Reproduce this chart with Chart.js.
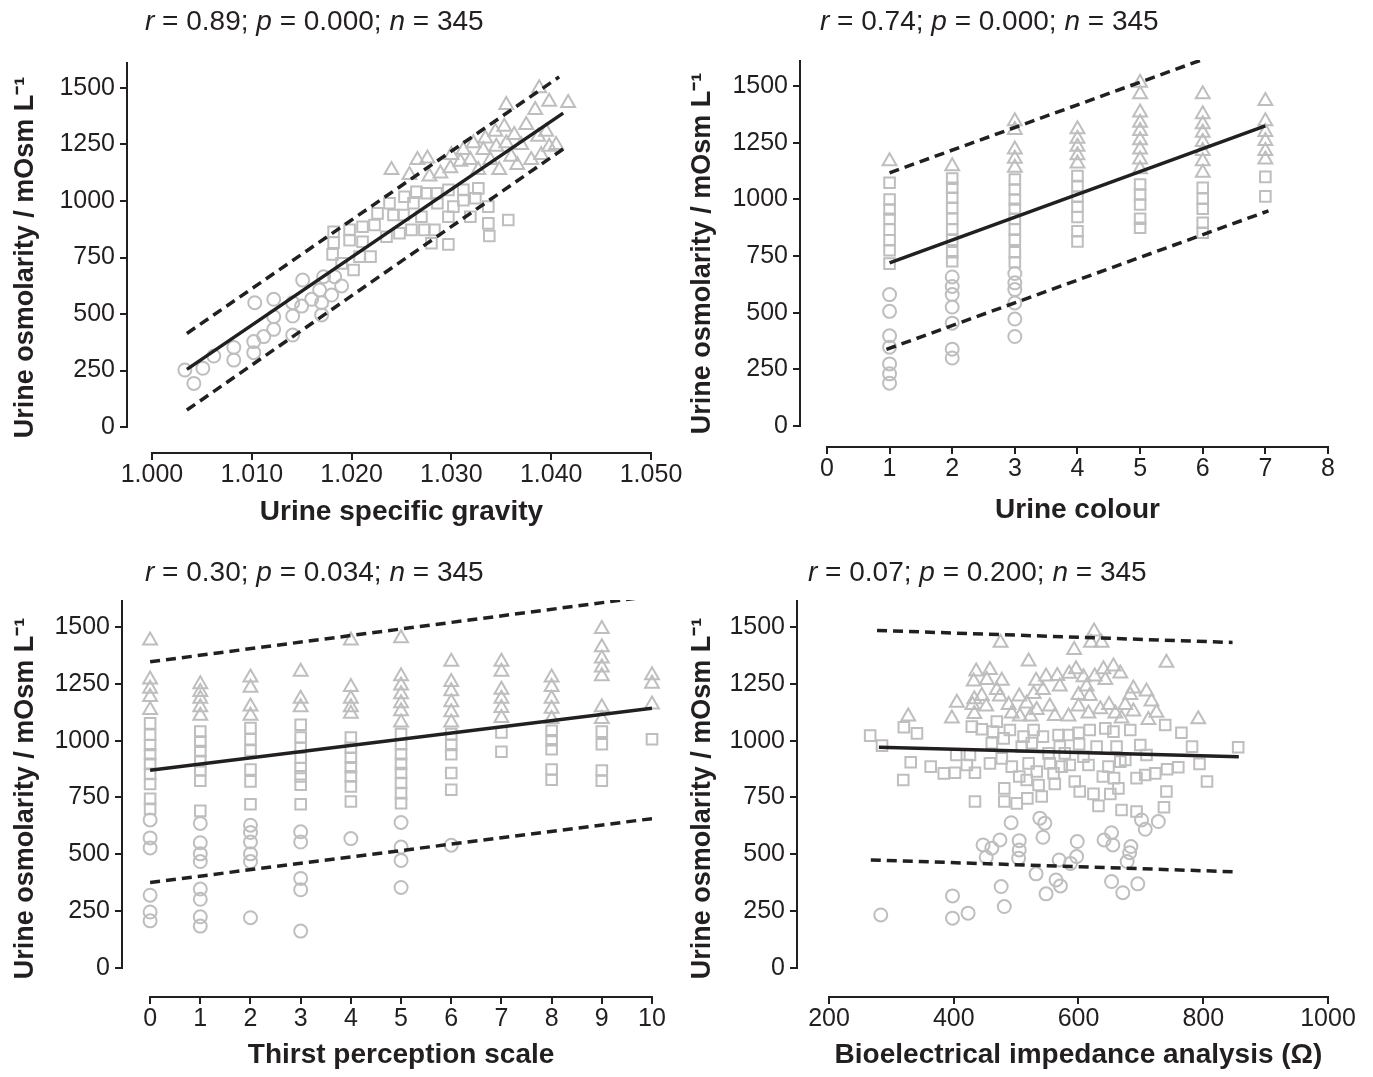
<!DOCTYPE html>
<html>
<head>
<meta charset="utf-8">
<script src="https://cdn.jsdelivr.net/npm/chart.js@4.4.1/dist/chart.umd.min.js"></script>
<style>
  body { margin: 0; background: #fff; }
  canvas { position: absolute; }
</style>
</head>
<body>
<canvas id="sg"></canvas>
<canvas id="colour"></canvas>
<canvas id="thirst"></canvas>
<canvas id="bia"></canvas>
<script>
const INK = '#231f20';
const MARK = '#bebebe';
const FONT = '"Liberation Sans", Arial, Helvetica, sans-serif';

// stats shown above each panel
const statR = ['0.89', '0.74', '0.30', '0.07'];
const statP = ['0.000', '0.000', '0.034', '0.200'];
const statN = 345;
const yTicks = [0, 250, 500, 750, 1000, 1250, 1500];

// urine specific gravity
const sgTicks = [1.000, 1.010, 1.020, 1.030, 1.040, 1.050];
const sgCircles = [[1.0033,252],[1.0042,193],[1.0051,260],[1.0062,314],[1.0082,352],[1.0082,296],[1.0102,378],
  [1.0102,329],[1.0103,550],[1.0112,400],[1.0122,432],[1.0122,565],[1.0122,488],[1.0141,550],[1.0141,491],
  [1.0141,407],[1.0151,650],[1.0150,535],[1.0160,565],[1.0168,606],[1.0172,665],[1.0170,550],[1.0170,496],
  [1.0180,584],[1.0183,665],[1.0190,624]];
const sgSquares = [[1.0182,864],[1.0182,816],[1.0181,764],[1.0190,724],[1.0202,695],[1.0198,872],[1.0198,827],
  [1.0208,754],[1.0219,754],[1.0211,886],[1.0211,820],[1.0223,894],[1.0226,945],[1.0235,842],[1.0238,990],
  [1.0242,938],[1.0248,857],[1.0253,1019],[1.0252,938],[1.0260,872],[1.0262,990],[1.0265,1041],[1.0270,930],
  [1.0273,872],[1.0275,1034],[1.0280,813],[1.0283,872],[1.0285,1034],[1.0286,990],[1.0297,808],[1.0297,930],
  [1.0297,1049],[1.0302,975],[1.0312,1049],[1.0312,1004],[1.0319,930],[1.0324,1012],[1.0327,1056],[1.0337,975],
  [1.0337,901],[1.0338,845],[1.0357,916]];
const sgTriangles = [[1.0240,1137],[1.0258,1115],[1.0266,1181],[1.0276,1188],[1.0278,1108],[1.0289,1122],
  [1.0299,1145],[1.0300,1204],[1.0309,1174],[1.0312,1226],[1.0319,1181],[1.0322,1255],[1.0327,1137],[1.0332,1226],
  [1.0334,1277],[1.0339,1181],[1.0344,1306],[1.0345,1240],[1.0348,1137],[1.0353,1329],[1.0355,1425],[1.0355,1255],
  [1.0360,1196],[1.0363,1292],[1.0366,1159],[1.0370,1248],[1.0375,1336],[1.0380,1181],[1.0384,1403],[1.0387,1284],
  [1.0388,1499],[1.0390,1204],[1.0395,1306],[1.0398,1439],[1.0398,1240],[1.0405,1248],[1.0417,1434]];
const sgFit = [[1.0035,255],[1.0412,1389]];
const sgUpper = [[1.0035,414],[1.0408,1549]];
const sgLower = [[1.0035,75],[1.0412,1230]];

// urine colour
const colourTicks = [0, 1, 2, 3, 4, 5, 6, 7, 8];
const colourCircles = [[1,580],[1,506],[1,398],[1,348],[1,274],[1,230],[1,189],
  [2,658],[2,616],[2,580],[2,525],[2,454],[2,339],[2,300],
  [3,673],[3,632],[3,602],[3,543],[3,472],[3,395]];
const colourSquares = [[1,1074],[1,1000],[1,956],[1,915],[1,867],[1,820],[1,776],[1,717],
  [2,1092],[2,1052],[2,1008],[2,963],[2,915],[2,867],[2,823],[2,767],[2,727],
  [3,1088],[3,1044],[3,1000],[3,959],[3,915],[3,867],[3,823],[3,767],[3,723],
  [4,1103],[4,1059],[4,1012],[4,968],[4,923],[4,860],[4,815],
  [5,1066],[5,1022],[5,978],[5,915],[5,875],
  [6,1052],[6,1003],[6,959],[6,897],[6,853],
  [7,1100],[7,1014]];
const colourTriangles = [[1,1169],[2,1147],
  [3,1346],[3,1307],[3,1221],[3,1180],[3,1140],
  [4,1310],[4,1268],[4,1233],[4,1195],[4,1159],
  [5,1516],[5,1465],[5,1384],[5,1339],[5,1302],[5,1262],[5,1221],[5,1177],[5,1133],
  [6,1465],[6,1376],[6,1332],[6,1295],[6,1254],[6,1214],[6,1169],[6,1118],
  [7,1435],[7,1346],[7,1298],[7,1258],[7,1214],[7,1177]];
const colourFit = [[1,720],[7,1325]];
const colourUpper = [[1,1118],[7,1718]];
const colourLower = [[0.95,338],[7.05,950]];

// thirst perception scale
const thirstTicks = [0, 1, 2, 3, 4, 5, 6, 7, 8, 9, 10];
const thirstCircles = [[0,651],[0,572],[0,528],[0,320],[0,246],[0,207],
  [1,636],[1,551],[1,502],[1,468],[1,347],[1,302],[1,225],[1,184],
  [2,628],[2,596],[2,554],[2,502],[2,468],[2,221],
  [3,599],[3,554],[3,394],[3,344],[3,162],
  [4,569],
  [5,640],[5,532],[5,473],[5,354],
  [6,540]];
const thirstSquares = [[0,1076],[0,1026],[0,981],[0,940],[0,898],[0,854],[0,809],[0,744],[0,700],
  [1,1040],[1,996],[1,954],[1,910],[1,869],[1,824],[1,691],
  [2,1055],[2,1006],[2,957],[2,873],[2,821],[2,720],
  [3,1070],[3,1014],[3,969],[3,925],[3,880],[3,843],[3,806],[3,720],
  [4,1014],[4,969],[4,925],[4,883],[4,843],[4,799],[4,732],
  [5,1029],[5,984],[5,940],[5,898],[5,858],[5,814],[5,769],[5,725],
  [6,1029],[6,981],[6,940],[6,858],[6,784],
  [7,1036],[7,951],
  [8,1043],[8,1002],[8,962],[8,873],[8,828],
  [9,1040],[9,984],[9,869],[9,824],
  [10,1006]];
const thirstTriangles = [[0,1441],[0,1269],[0,1229],[0,1192],[0,1135],
  [1,1248],[1,1214],[1,1184],[1,1147],[1,1110],
  [2,1278],[2,1233],[2,1150],[2,1110],
  [3,1303],[3,1184],[3,1147],
  [4,1441],[4,1236],[4,1184],[4,1147],[4,1118],
  [5,1451],[5,1283],[5,1243],[5,1204],[5,1165],[5,1129],[5,1080],
  [6,1347],[6,1258],[6,1218],[6,1169],[6,1125],[6,1080],
  [7,1347],[7,1303],[7,1224],[7,1184],[7,1144],[7,1100],
  [8,1278],[8,1236],[8,1184],[8,1140],[8,1095],
  [9,1491],[9,1411],[9,1362],[9,1322],[9,1283],[9,1147],[9,1095],
  [10,1288],[10,1251],[10,1159]];
const thirstFit = [[0,870],[10,1143]];
const thirstUpper = [[0,1347],[10,1636]];
const thirstLower = [[0,376],[10,657]];

// bioelectrical impedance analysis
const biaTicks = [200, 400, 600, 800, 1000];
const biaCircles = [[283,233],[398,317],[398,219],[423,241],[447,541],[461,527],[452,487],[474,563],[476,358],
  [481,270],[492,639],[505,560],[505,519],[504,483],[532,414],[538,659],[546,637],[543,575],[548,326],[564,387],
  [571,361],[569,475],[587,460],[597,490],[598,556],[641,563],[653,595],[655,541],[653,380],[671,331],[684,534],
  [682,507],[678,468],[695,370],[701,651],[707,610],[728,644]];
const biaSquares = [[266,1022],[285,978],[319,827],[320,1059],[331,905],[341,1032],[363,886],[384,856],[402,859],
  [404,937],[421,893],[426,937],[429,1062],[434,859],[434,732],[445,1050],[458,900],[461,989],[463,1040],[469,1084],
  [477,922],[480,1010],[481,790],[481,732],[490,1047],[493,886],[501,724],[505,842],[509,974],[512,1018],[517,827],
  [518,746],[520,900],[525,989],[528,1047],[533,864],[536,805],[541,754],[543,1018],[552,944],[554,900],[560,856],
  [562,810],[568,1025],[570,974],[573,886],[578,944],[584,1025],[586,893],[594,820],[600,1035],[601,985],[602,776],
  [608,930],[616,893],[618,1047],[624,766],[629,974],[632,713],[639,842],[643,1054],[648,886],[651,765],[656,1040],
  [657,835],[661,974],[664,790],[667,908],[669,695],[675,915],[683,1047],[693,835],[693,688],[699,981],[707,849],
  [709,937],[723,856],[737,707],[739,1069],[741,776],[742,874],[760,883],[765,1035],[782,974],[794,898],[806,820],
  [856,971]];
const biaTriangles = [[327,1106],[397,1098],[405,1167],[433,1117],[433,1182],[432,1260],[436,1304],[445,1197],
  [452,1150],[453,1267],[458,1311],[469,1223],[474,1194],[477,1264],[475,1431],[488,1157],[493,1120],[505,1194],
  [506,1106],[517,1164],[520,1348],[523,1106],[528,1205],[532,1264],[533,1135],[543,1223],[548,1282],[554,1150],
  [562,1109],[566,1285],[570,1238],[584,1106],[585,1294],[593,1399],[596,1314],[600,1201],[600,1150],[608,1279],
  [613,1238],[616,1120],[618,1197],[625,1480],[620,1431],[637,1431],[626,1282],[635,1138],[640,1314],[643,1267],
  [649,1157],[656,1326],[659,1120],[667,1296],[669,1098],[675,1157],[683,1201],[688,1230],[688,1128],[709,1216],
  [712,1091],[717,1172],[725,1123],[741,1343],[792,1094],[430,1157]];
const biaFit = [[280,971],[857,929]];
const biaUpper = [[277,1485],[847,1432]];
const biaLower = [[267,475],[851,423]];

// draws the detached axis lines, the x title and the stats line
const panelText = {
  id: 'panelText',
  afterDraw(chart, args, o) {
    const { ctx, chartArea: a, scales: { x, y } } = chart;
    const x0 = x.getPixelForValue(o.xFirst);
    const x1 = x.getPixelForValue(o.xLast);
    ctx.save();
    ctx.strokeStyle = INK;
    ctx.lineWidth = 2;
    ctx.beginPath();
    ctx.moveTo(a.left, y.getPixelForValue(0) + 1);
    ctx.lineTo(a.left, a.top);
    ctx.moveTo(x0 - 1, a.bottom);
    ctx.lineTo(x1 + 1, a.bottom);
    ctx.stroke();

    ctx.fillStyle = INK;
    ctx.textBaseline = 'middle';
    ctx.textAlign = 'center';
    ctx.font = 'bold 28px ' + FONT;
    ctx.fillText(o.xTitle, (x0 + x1) / 2, a.bottom + o.xTitleGap);

    ctx.textAlign = 'left';
    let cx = o.statX;
    o.stat.forEach(([txt, it]) => {
      ctx.font = (it ? 'italic ' : '') + '28px ' + FONT;
      ctx.fillText(txt, cx, o.statY);
      cx += ctx.measureText(txt).width;
    });
    ctx.restore();
  }
};

const pts = arr => arr.map(p => ({ x: p[0], y: p[1] }));

function markers(arr, style, r) {
  return {
    data: pts(arr), pointStyle: style, pointRadius: r, pointHoverRadius: r,
    pointBorderColor: MARK, pointBackgroundColor: 'rgba(0,0,0,0)', pointBorderWidth: 2,
    clip: false
  };
}

function fitLine(arr, dash) {
  return {
    type: 'line', data: pts(arr), showLine: true, borderColor: INK, borderWidth: 3.5,
    borderDash: dash, pointRadius: 0, fill: false, tension: 0
  };
}

function panel(id, p) {
  const [L, T, W, H] = p.box;
  const [aL, aT, aR, aB] = p.area;
  const cv = document.getElementById(id);
  cv.width = W; cv.height = H;
  cv.style.left = L + 'px'; cv.style.top = T + 'px';
  const stat = [['r', true], [' = ' + statR[p.k] + '; ', false], ['p', true],
    [' = ' + statP[p.k] + '; ', false], ['n', true], [' = ' + statN, false]];

  new Chart(cv, {
    type: 'scatter',
    data: {
      datasets: [
        fitLine(p.fit, []), fitLine(p.upper, [10, 6]), fitLine(p.lower, [10, 6]),
        markers(p.triangles, 'triangle', 8),
        markers(p.squares, 'rect', 7.5),
        markers(p.circles, 'circle', 6.5)
      ]
    },
    options: {
      responsive: false,
      animation: false,
      layout: { padding: { left: 0, top: aT - T, right: L + W - aR, bottom: 0 } },
      plugins: {
        legend: { display: false },
        tooltip: { enabled: false },
        panelText: {
          xFirst: p.xTicks[0], xLast: p.xTicks[p.xTicks.length - 1],
          xTitle: p.xTitle, xTitleGap: p.xTitleGap,
          stat: stat, statX: p.statX - L, statY: p.statY - T
        }
      },
      scales: {
        x: {
          type: 'linear', min: p.xMin, max: p.xMax,
          afterFit: s => { s.height = T + H - aB; },
          afterBuildTicks: s => { s.ticks = p.xTicks.map(v => ({ value: v })); },
          border: { display: false },
          grid: { drawOnChartArea: false, drawTicks: true, tickLength: 7, color: INK, lineWidth: 2 },
          ticks: { color: INK, font: { size: 25 }, padding: 0, maxRotation: 0, autoSkip: false, callback: p.xFmt }
        },
        y: {
          type: 'linear', min: p.yMin, max: p.yMax,
          afterFit: s => { s.width = aL - L; },
          afterBuildTicks: s => { s.ticks = yTicks.map(v => ({ value: v })); },
          border: { display: false },
          grid: { drawOnChartArea: false, drawTicks: true, tickLength: 7, color: INK, lineWidth: 2 },
          ticks: { color: INK, font: { size: 25 }, padding: 5, callback: v => String(v) },
          title: {
            display: true, text: 'Urine osmolarity / mOsm L\u207B\u00B9', color: INK,
            font: { size: 27, weight: 'bold' }, padding: { top: 4, bottom: 4 }
          }
        }
      }
    },
    plugins: [panelText]
  });
}

panel('sg', {
  k: 0, box: [5, 0, 681, 540], area: [127, 62, 651, 453],
  xMin: 0.9975, xMax: 1.050, yMin: -115, yMax: 1615,
  xTicks: sgTicks, xFmt: v => v.toFixed(3),
  xTitle: 'Urine specific gravity', xTitleGap: 59, statX: 145, statY: 22,
  circles: sgCircles, squares: sgSquares, triangles: sgTriangles,
  fit: sgFit, upper: sgUpper, lower: sgLower
});

panel('colour', {
  k: 1, box: [682, 0, 691, 540], area: [800, 60, 1328, 447],
  xMin: -0.43, xMax: 8, yMin: -93, yMax: 1616,
  xTicks: colourTicks, xFmt: v => String(v),
  xTitle: 'Urine colour', xTitleGap: 63, statX: 820, statY: 22,
  circles: colourCircles, squares: colourSquares, triangles: colourTriangles,
  fit: colourFit, upper: colourUpper, lower: colourLower
});

panel('thirst', {
  k: 2, box: [5, 540, 681, 537], area: [122, 600, 652, 997],
  xMin: -0.56, xMax: 10, yMin: -128, yMax: 1619,
  xTicks: thirstTicks, xFmt: v => String(v),
  xTitle: 'Thirst perception scale', xTitleGap: 58, statX: 145, statY: 573,
  circles: thirstCircles, squares: thirstSquares, triangles: thirstTriangles,
  fit: thirstFit, upper: thirstUpper, lower: thirstLower
});

panel('bia', {
  k: 3, box: [682, 540, 691, 537], area: [797, 600, 1328, 997],
  xMin: 148.7, xMax: 1000, yMin: -128, yMax: 1619,
  xTicks: biaTicks, xFmt: v => String(v),
  xTitle: 'Bioelectrical impedance analysis (\u03A9)', xTitleGap: 58, statX: 808, statY: 573,
  circles: biaCircles, squares: biaSquares, triangles: biaTriangles,
  fit: biaFit, upper: biaUpper, lower: biaLower
});
</script>
</body>
</html>
